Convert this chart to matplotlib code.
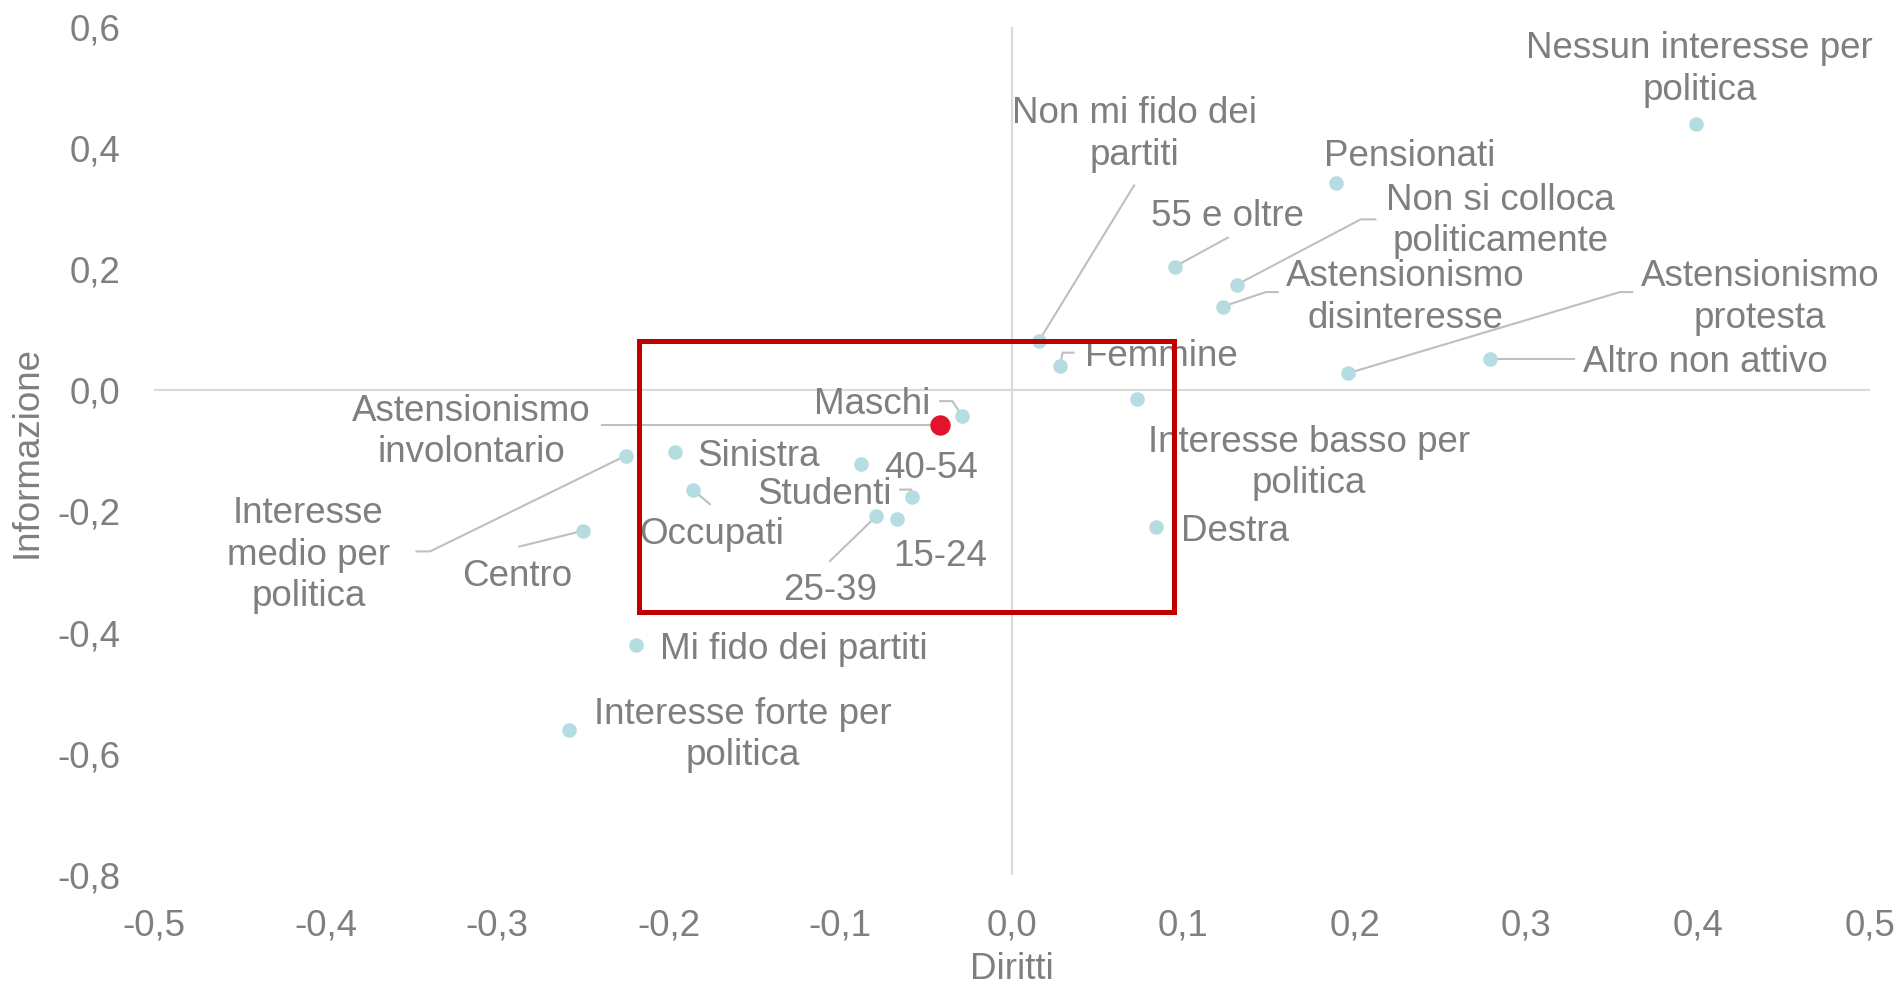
import matplotlib
matplotlib.use("Agg")
import matplotlib.pyplot as plt
from matplotlib.patches import Rectangle
from matplotlib.ticker import FuncFormatter
from matplotlib.transforms import offset_copy

plt.rcParams['font.family'] = ['Liberation Sans', 'DejaVu Sans']

# ---- data ----
labels = [
    "Nessun interesse per\npolitica", "Non mi fido dei\npartiti", "Pensionati", "55 e oltre",
    "Non si colloca\npoliticamente", "Astensionismo\ndisinteresse", "Astensionismo\nprotesta",
    "Altro non attivo", "Femmine", "Interesse basso per\npolitica", "Destra", "Maschi",
    "Astensionismo\ninvolontario", "Sinistra", "40-54", "Studenti", "Occupati", "25-39",
    "15-24", "Centro", "Interesse\nmedio per\npolitica", "Mi fido dei partiti",
    "Interesse forte per\npolitica",
]
diritti = [0.399, 0.016, 0.189, 0.095, 0.131, 0.123, 0.196, 0.279, 0.028, 0.073, 0.084,
           -0.029, -0.042, -0.196, -0.088, -0.058, -0.186, -0.079, -0.067, -0.250, -0.225,
           -0.219, -0.258]
informazione = [0.440, 0.082, 0.342, 0.204, 0.174, 0.138, 0.028, 0.052, 0.040, -0.014,
                -0.226, -0.042, -0.058, -0.102, -0.122, -0.176, -0.164, -0.208, -0.212,
                -0.232, -0.108, -0.420, -0.560]
highlight = "Astensionismo\ninvolontario"
xticks = [-0.5, -0.4, -0.3, -0.2, -0.1, 0.0, 0.1, 0.2, 0.3, 0.4, 0.5]
yticks = [-0.8, -0.6, -0.4, -0.2, 0.0, 0.2, 0.4, 0.6]

# ---- layout (label placement & leader waypoints, data coords) ----
label_pos = {
    "Nessun interesse per\npolitica": (0.401, 0.535, 'center', []),
    "Non mi fido dei\npartiti": (0.0713, 0.428, 'center', [(0.0713, 0.338)]),
    "Pensionati": (0.232, 0.392, 'center', []),
    "55 e oltre": (0.126, 0.292, 'center', [(0.126, 0.252)]),
    "Non si colloca\npoliticamente": (0.285, 0.285, 'center', [(0.2119, 0.282), (0.2034, 0.282)]),
    "Astensionismo\ndisinteresse": (0.2295, 0.159, 'center', [(0.155, 0.162), (0.148, 0.162)]),
    "Astensionismo\nprotesta": (0.436, 0.159, 'center', [(0.3616, 0.162), (0.3545, 0.162)]),
    "Altro non attivo": (0.333, 0.052, 'left', [(0.328, 0.052)]),
    "Femmine": (0.0425, 0.062, 'left', [(0.036, 0.062), (0.0297, 0.062)]),
    "Interesse basso per\npolitica": (0.173, -0.114, 'center', []),
    "Destra": (0.0985, -0.228, 'left', []),
    "Maschi": (-0.0474, -0.018, 'right', [(-0.0417, -0.018), (-0.0346, -0.018)]),
    "Astensionismo\ninvolontario": (-0.315, -0.063, 'center', [(-0.2387, -0.058)]),
    "Sinistra": (-0.183, -0.104, 'left', []),
    "40-54": (-0.047, -0.124, 'center', []),
    "Studenti": (-0.109, -0.166, 'center', [(-0.065, -0.164), (-0.0586, -0.164)]),
    "Occupati": (-0.175, -0.232, 'center', [(-0.176, -0.188)]),
    "25-39": (-0.106, -0.324, 'center', [(-0.106, -0.282)]),
    "15-24": (-0.0417, -0.268, 'center', []),
    "Centro": (-0.288, -0.302, 'center', [(-0.287, -0.258)]),
    "Interesse\nmedio per\npolitica": (-0.41, -0.266, 'center', [(-0.347, -0.266), (-0.339, -0.266)]),
    "Mi fido dei partiti": (-0.205, -0.422, 'left', []),
    "Interesse forte per\npolitica": (-0.157, -0.563, 'center', []),
}

TEXT = '#7F7F7F'
DOT = '#B5DDE1'
LEAD = '#BFBFBF'
FS = 26.5

fig = plt.figure(figsize=(19, 9.88), dpi=100)
ax = fig.add_axes([0.081, 0.1144, 0.903, 0.8586])
ax.set_xlim(-0.5, 0.5)
ax.set_ylim(-0.8, 0.6)
for s in ax.spines.values():
    s.set_visible(False)
ax.axhline(0, color='#D9D9D9', lw=1.5, zorder=1)
ax.axvline(0, color='#D9D9D9', lw=1.5, zorder=1)

ax.set_xticks(xticks)
ax.set_yticks(yticks)
fmt = FuncFormatter(lambda v, p: f"{v:.1f}".replace('.', ',').replace('-0,0', '0,0'))
ax.xaxis.set_major_formatter(fmt)
ax.yaxis.set_major_formatter(fmt)
ax.tick_params(length=0, labelsize=FS, labelcolor=TEXT, pad=24)

# leader lines
for lab, x, y in zip(labels, diritti, informazione):
    tx, ty, ha, way = label_pos[lab]
    if way:
        xs = [p[0] for p in way] + [x]
        ys = [p[1] for p in way] + [y]
        ax.plot(xs, ys, color=LEAD, lw=1.5, zorder=2)

# points
for lab, x, y in zip(labels, diritti, informazione):
    if lab == highlight:
        ax.scatter([x], [y], s=215, color='#E3132B', zorder=4, linewidths=0)
    else:
        ax.scatter([x], [y], s=110, color=DOT, zorder=3, linewidths=0)

# labels
ttrans = offset_copy(ax.transData, fig=fig, y=-2.6, units='points')
for lab in labels:
    tx, ty, ha, way = label_pos[lab]
    ax.text(tx, ty, lab, ha=ha, va='center', fontsize=FS, color=TEXT,
            linespacing=1.24, zorder=5, transform=ttrans)

# highlight rectangle
ax.add_patch(Rectangle((-0.217, -0.366), 0.3116, 0.448, fill=False,
                       edgecolor='#C00000', lw=3.6, zorder=6))

fig.text(0.5327, 0.019, "Diritti", ha='center', va='center', fontsize=FS, color=TEXT)
fig.text(0.0142, 0.543, "Informazione", ha='center', va='center', rotation=90,
         fontsize=FS, color=TEXT)

fig.savefig("out.png", dpi=100, facecolor='white')
